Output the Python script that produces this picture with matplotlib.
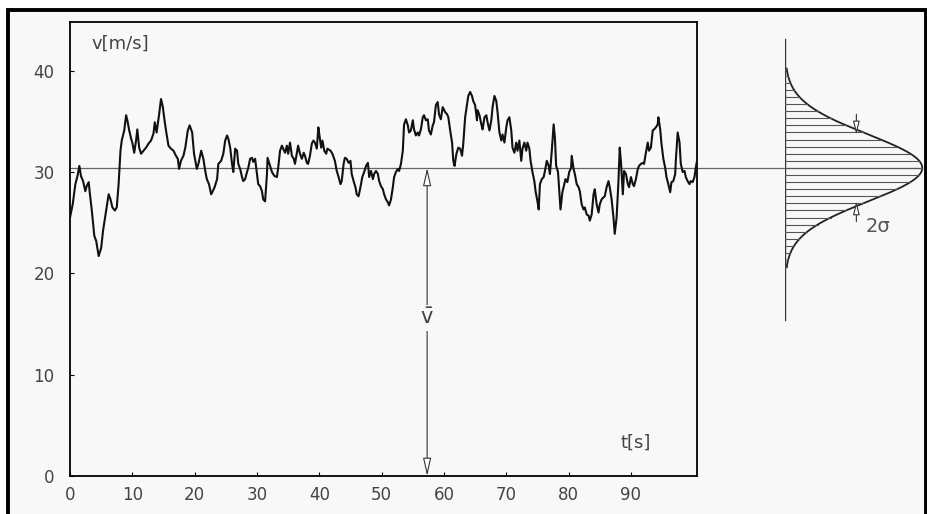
import numpy as np
import matplotlib.pyplot as plt
from matplotlib.patches import Rectangle
from matplotlib.transforms import blended_transform_factory

# wind speed record
t = [0, 0.43, 0.86, 1.2, 1.5, 1.76, 2.1, 2.46, 2.67, 3.0, 3.2, 3.5, 3.9, 4.2, 4.6, 5.0, 5.3, 5.8,
     6.2, 6.5, 6.8, 7.2, 7.5, 7.8, 8.1, 8.3, 8.7, 9.0, 9.2, 9.5, 9.8, 10.0, 10.3, 10.6, 10.8, 11.1,
     11.4, 11.8, 12.2, 12.6, 13.0, 13.4, 13.6, 13.9, 14.3, 14.6, 14.9, 15.1, 15.4, 15.8, 16.2, 16.6,
     17.0, 17.3, 17.5, 17.8, 18.2, 18.5, 18.9, 19.2, 19.6, 19.9, 20.35, 20.6, 21.05, 21.4, 21.7,
     21.95, 22.3, 22.65, 22.9, 23.2, 23.6, 23.8, 24.25, 24.6, 24.9, 25.2, 25.4, 25.7, 26.0, 26.2,
     26.5, 26.8, 27.0, 27.3, 27.6, 27.8, 28.1, 28.4, 28.6, 28.9, 29.2, 29.4, 29.7, 30.0, 30.2, 30.5,
     30.8, 31.0, 31.3, 31.6, 31.7, 32.0, 32.4, 32.8, 33.2, 33.4, 33.7, 34.0, 34.2, 34.5, 34.8, 35.0,
     35.3, 35.6, 35.9, 36.1, 36.4, 36.6, 36.9, 37.2, 37.5, 37.7, 38.0, 38.2, 38.5, 38.8, 39.05, 39.3,
     39.6, 39.85, 40.0, 40.3, 40.5, 40.8, 41.1, 41.3, 41.8, 42.1, 42.5, 42.8, 43.05, 43.4, 43.6, 43.9,
     44.1, 44.4, 44.7, 45.0, 45.2, 45.5, 45.8, 46.0, 46.3, 46.6, 46.9, 47.2, 47.5, 47.8, 48.0, 48.3,
     48.6, 48.8, 49.1, 49.4, 49.6, 49.9, 50.2, 50.4, 50.7, 51.0, 51.2, 51.5, 51.8, 52.0, 52.3, 52.6,
     52.8, 53.1, 53.4, 53.6, 53.9, 54.2, 54.4, 54.7, 55.0, 55.2, 55.5, 55.8, 56.0, 56.3, 56.6, 56.8,
     57.1, 57.4, 57.6, 57.9, 58.2, 58.4, 58.7, 59.0, 59.2, 59.5, 59.8, 60.2, 60.5, 60.7, 61.0, 61.3,
     61.5, 61.7, 62.0, 62.3, 62.6, 62.9, 63.1, 63.4, 63.7, 63.9, 64.2, 64.5, 64.7, 65.0, 65.3, 65.4,
     65.7, 66.0, 66.2, 66.5, 66.8, 67.0, 67.3, 67.6, 67.8, 68.1, 68.4, 68.6, 68.9, 69.2, 69.4, 69.7,
     70.0, 70.2, 70.5, 70.8, 71.0, 71.3, 71.6, 71.8, 72.1, 72.4, 72.6, 72.9, 73.2, 73.4, 73.7, 73.9,
     74.2, 74.5, 74.7, 75.0, 75.2, 75.4, 75.7, 76.0, 76.2, 76.5, 76.8, 77.0, 77.3, 77.6, 77.8, 78.0,
     78.3, 78.5, 78.7, 79.0, 79.3, 79.5, 79.8, 80.1, 80.4, 80.5, 80.8, 81.0, 81.3, 81.6, 81.8, 82.1,
     82.4, 82.6, 82.9, 83.2, 83.4, 83.7, 84.0, 84.2, 84.5, 84.8, 85.0, 85.3, 85.6, 85.8, 86.1, 86.4,
     86.6, 86.9, 87.2, 87.4, 87.7, 88.0, 88.2, 88.4, 88.7, 88.9, 89.2, 89.5, 89.7, 90.0, 90.3, 90.5,
     90.8, 91.1, 91.3, 91.6, 91.9, 92.1, 92.4, 92.7, 92.9, 93.2, 93.5, 93.7, 94.0, 94.3, 94.4, 94.7,
     94.9, 95.2, 95.5, 95.7, 96.0, 96.3, 96.5, 96.8, 97.1, 97.2, 97.5, 97.8, 98.0, 98.3, 98.6, 98.8,
     99.1, 99.4, 99.6, 99.9, 100.2, 100.4, 100.6]
v = [25.5, 26.8, 28.8, 29.6, 30.6, 29.6, 29.1, 28.1, 28.6, 29.0, 27.8, 26.2, 23.7, 23.2, 21.7, 22.5,
     24.2, 26.2, 27.8, 27.3, 26.5, 26.2, 26.5, 28.8, 32.1, 33.1, 34.1, 35.6, 35.1, 34.1, 33.3, 32.9,
     31.9, 33.1, 34.2, 32.4, 31.8, 32.1, 32.4, 32.8, 33.1, 33.8, 34.9, 33.9, 35.7, 37.2, 36.4, 35.4,
     34.1, 32.6, 32.3, 32.1, 31.6, 31.3, 30.3, 31.1, 31.6, 32.4, 34.1, 34.6, 33.9, 31.8, 30.3, 30.8,
     32.1, 31.3, 30.1, 29.3, 28.8, 27.8, 28.1, 28.5, 29.3, 30.8, 31.1, 31.8, 33.1, 33.6, 33.3, 32.4,
     30.8, 30.0, 32.3, 32.1, 30.8, 30.3, 29.5, 29.1, 29.3, 30.0, 30.4, 31.3, 31.4, 31.0, 31.3, 29.8,
     28.8, 28.6, 28.1, 27.3, 27.1, 29.8, 31.4, 30.8, 30.0, 29.6, 29.5, 30.4, 32.1, 32.6, 32.3, 31.9,
     32.6, 31.8, 32.9, 31.6, 31.3, 30.8, 31.9, 32.6, 31.8, 31.3, 31.9, 31.6, 30.9, 30.8, 31.6, 32.8,
     33.1, 32.9, 32.3, 34.4, 33.7, 32.4, 33.1, 32.1, 31.8, 32.3, 32.1, 31.8, 31.1, 30.1, 29.6, 28.8,
     29.1, 30.8, 31.4, 31.3, 30.9, 31.1, 29.8, 29.1, 28.5, 27.8, 27.6, 28.5, 29.5, 30.0, 30.6, 30.9,
     29.5, 30.1, 29.3, 29.8, 30.1, 29.8, 29.1, 28.6, 28.3, 27.8, 27.3, 27.0, 26.7, 27.3, 28.5, 29.5,
     30.0, 30.3, 30.1, 30.8, 32.1, 34.7, 35.2, 34.6, 33.9, 34.1, 35.1, 34.2, 33.6, 33.9, 33.6, 34.2,
     35.4, 35.6, 35.1, 35.2, 34.1, 33.7, 34.6, 34.9, 36.6, 36.9, 35.7, 35.2, 36.4, 35.9, 35.7, 35.4,
     34.1, 32.9, 31.1, 30.6, 31.8, 32.4, 32.3, 31.6, 32.8, 35.4, 36.7, 37.5, 37.9, 37.5, 37.0, 36.6,
     35.1, 36.1, 35.6, 34.7, 34.2, 35.4, 35.6, 34.9, 34.1, 35.1, 36.4, 37.5, 37.0, 35.9, 33.9, 33.1,
     33.7, 32.9, 34.4, 35.1, 35.4, 34.1, 32.4, 31.9, 32.9, 32.1, 33.1, 31.1, 32.3, 32.9, 32.1, 32.9,
     32.3, 31.1, 30.0, 29.1, 28.1, 27.1, 26.3, 28.8, 29.3, 29.5, 30.1, 31.1, 30.6, 29.8, 32.1, 34.7,
     33.4, 30.6, 30.0, 28.1, 26.3, 28.0, 28.8, 29.3, 29.0, 30.0, 30.4, 31.6, 30.3, 29.8, 28.8, 28.5,
     28.1, 26.8, 26.3, 26.5, 25.8, 25.7, 25.2, 25.8, 27.8, 28.3, 26.8, 26.0, 26.8, 27.3, 27.5, 27.6,
     28.5, 29.1, 28.5, 27.3, 25.5, 23.9, 25.5, 29.1, 32.4, 31.0, 27.8, 30.1, 29.8, 28.8, 28.5, 29.5,
     28.8, 28.6, 29.3, 30.3, 30.6, 30.8, 30.9, 30.8, 31.9, 32.9, 32.1, 32.4, 34.1, 34.2, 34.4, 34.7,
     35.4, 34.2, 32.8, 31.3, 30.4, 29.5, 28.8, 28.0, 29.0, 29.1, 29.8, 31.1, 33.9, 32.9, 30.8, 30.0,
     30.1, 29.5, 29.1, 28.8, 29.1, 29.0, 29.5, 30.4, 31.1]

v_mean = 30.4
sigma = 3.3
x_ticks = [0, 10, 20, 30, 40, 50, 60, 70, 80, 90]
y_ticks = [0, 10, 20, 30, 40]

W, H = 928, 514
fig = plt.figure(figsize=(W / 100, H / 100), dpi=100, facecolor='white')
frame = Rectangle((8 / W, -0.05), (926 - 8) / W, 1.05 - 10 / H,
                  transform=fig.transFigure, facecolor='#f8f8f8',
                  edgecolor='black', linewidth=2.8, zorder=-10)
fig.patches.append(frame)

ymax = 44.8
ax = fig.add_axes([70 / W, 1 - 476 / H, (697 - 70) / W, (476 - 22) / H])
ax.set_facecolor('none')
ax.set_xlim(0, 100.6)
ax.set_ylim(0, ymax)
ax.plot(t, v, color='#111111', lw=1.5, zorder=3)

# mean line across both panels
tr = blended_transform_factory(fig.transFigure, ax.transData)
ax.plot([70 / W, 922 / W], [v_mean, v_mean], color='#666666', lw=0.9,
        transform=tr, clip_on=False, zorder=2)

ax.set_xticks(x_ticks)
ax.set_yticks(y_ticks)
ax.tick_params(direction='in', length=3, width=0.8, labelsize=12,
               labelcolor='#444444', pad=7)
ax.tick_params(axis='y', pad=11)
for s in ax.spines.values():
    s.set_linewidth(1.3)

ax.text(3.5, 42.2, 'v[m/s]', fontsize=13, color='#444444')
ax.text(88.3, 2.8, 't[s]', fontsize=13, color='#444444')

# mean value arrow
t_arr = 57.3
ax.annotate('', xy=(t_arr, v_mean), xytext=(t_arr, 0),
            arrowprops=dict(arrowstyle='<|-|>,head_length=1.1,head_width=0.25',
                            fc='white', ec='#333333', lw=0.8, shrinkA=0, shrinkB=0))
ax.text(t_arr, 15.6, r'$\bar{\mathrm{v}}$', fontsize=15, color='#444444',
        ha='center', va='center',
        bbox=dict(facecolor='#f8f8f8', edgecolor='none', pad=2))

# distribution panel
ax2 = fig.add_axes([785 / W, 1 - 476 / H, (925 - 785) / W, (476 - 22) / H])
ax2.set_facecolor('none')
ax2.set_ylim(0, ymax)
ax2.set_xlim(0, 1.02)
ax2.axis('off')
ax2.plot([0, 0], [15.4, 43.1], color='#333333', lw=1.0)

yy = np.linspace(v_mean - 9.8, v_mean + 9.8, 300)
pdf = np.exp(-0.5 * ((yy - v_mean) / sigma) ** 2)
ax2.plot(pdf, yy, color='#222222', lw=1.3)
hatch_y = v_mean + 0.7 * np.arange(-14, 15)
for hy in hatch_y:
    ax2.plot([0, np.exp(-0.5 * ((hy - v_mean) / sigma) ** 2)], [hy, hy],
             color='#555555', lw=0.8)

for sgn in (1, -1):
    ax2.annotate('', xy=(0.52, v_mean + sgn * sigma),
                 xytext=(0.52, v_mean + sgn * (sigma + 2.0)),
                 arrowprops=dict(arrowstyle='-|>,head_length=0.8,head_width=0.2',
                                 fc='white', ec='#333333', lw=0.8, shrinkA=0, shrinkB=0))
ax2.text(0.59, v_mean - sigma - 3.0, '2σ', fontsize=14, color='#555555')

fig.savefig('out.png', dpi=100)
